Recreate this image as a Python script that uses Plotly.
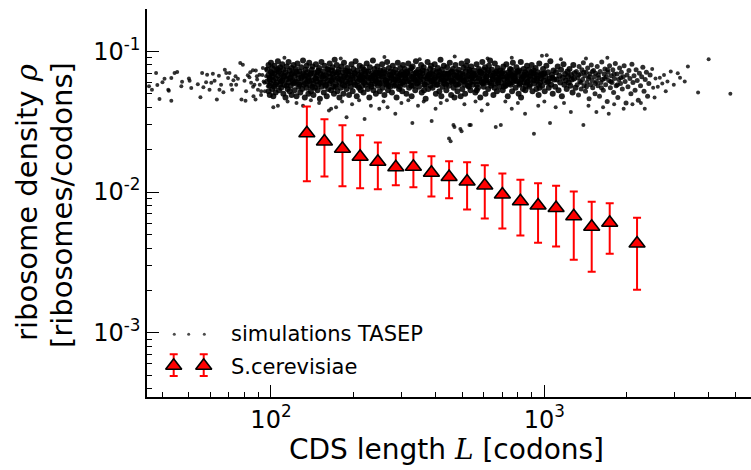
import math
import plotly.graph_objects as go

# ---------------- data ----------------
# S. cerevisiae binned experimental densities
sc_L = [135.3, 156.9, 182.6, 211.9, 246.0, 286.2, 331.9, 386.3, 448.3, 521.7,
        605.4, 702.2, 817.3, 948.4, 1104, 1281, 1490, 1734, 2183]
sc_rho = [0.02616, 0.02284, 0.02030, 0.01781, 0.01641, 0.01499, 0.01512, 0.01372, 0.01278, 0.01187,
          0.01112, 0.00960, 0.00860, 0.00802, 0.00770, 0.00673, 0.00566, 0.00604, 0.00431]
sc_rho_hi = [0.04048, 0.03289, 0.02981, 0.02531, 0.02247, 0.01887, 0.01918, 0.01796, 0.01654, 0.01625,
             0.01550, 0.01353, 0.01220, 0.01155, 0.01107, 0.01008, 0.00852, 0.00833, 0.00656]
sc_rho_lo = [0.01193, 0.01288, 0.01100, 0.01064, 0.01047, 0.01118, 0.01082, 0.00929, 0.00904, 0.00751,
             0.00648, 0.00551, 0.00491, 0.00436, 0.00410, 0.00330, 0.00271, 0.00364, 0.00202]

# TASEP simulations (L, rho), read region by region from the cloud
sim_short = [
    (35.8, .0564), (36.7, .0534), (38.0, .0702), (38.4, .0577), (39.1, .0459), (40.1, .0602), (40.8, .0638),
    (42.1, .0534), (42.3, .0524), (43.2, .0446), (43.2, .0647), (44.4, .0702), (45.4, .0713), (47.0, .0564),
    (47.3, .0609), (50.1, .0640), (50.4, .0619), (51.1, .0549), (54.0, .0583), (55.2, .0471), (56.0, .0702),
    (56.6, .0555), (57.9, .0602), (58.4, .0683), (59.6, .0534), (60.5, .0597), (61.3, .0692), (62.2, .0617),
    (63.4, .0454), (64.5, .0672), (64.8, .0534), (65.7, .0580), (67.0, .0511), (67.8, .0741), (68.6, .0702),
    (69.7, .0647), (70.5, .0702), (71.5, .0580), (72.1, .0534), (72.9, .0623), (74.2, .0664), (74.6, .0580),
    (75.7, .0638), (77.2, .0827), (78.0, .0454), (78.9, .0804), (80.0, .0619), (80.7, .0446), (81.1, .0520),
    (82.3, .0675), (83.4, .0654), (84.6, .0597), (85.9, .0733), (86.3, .0480), (87.0, .0580), (87.8, .0454),
    (88.8, .0664), (89.6, .0534), (90.8, .0683), (92.1, .0520), (93.4, .0762), (94.7, .0597), (96.0, .0664),
    (97.4, .0564), (84, .071), (89, .063), (91, .058), (93, .068), (95, .052), (96, .075), (92, .049),
    (94, .061), (86, .056), (88, .073),
]
sim_core = [
    (97,.061),(97,.074),(98,.052),(98,.068),(98,.080),(99,.057),(99,.065),(99,.049),(100,.071),(100,.059),
    (100,.083),(101,.054),(101,.066),(101,.076),(102,.048),(102,.062),(103,.070),(103,.056),(103,.079),(104,.064),
    (104,.051),(105,.073),(105,.060),(106,.067),(106,.085),(107,.053),(107,.072),(108,.058),(108,.063),(108,.077),
    (109,.069),(109,.055),(110,.081),(110,.062),(111,.050),(111,.074),(112,.066),(112,.058),(113,.047),(113,.071),
    (114,.063),(114,.078),(115,.054),(115,.068),(116,.060),(116,.084),(117,.052),(117,.073),(118,.065),(118,.057),
    (119,.076),(119,.049),(120,.062),(120,.070),(121,.059),(121,.080),(122,.067),
    (122,.053),(123,.075),(123,.061),(124,.048),(125,.069),(125,.082),(126,.056),(126,.064),(127,.072),(128,.051),
    (128,.060),(129,.077),(130,.066),(130,.054),(131,.086),(131,.070),(132,.058),(133,.063),(133,.047),(134,.074),
    (134,.067),(135,.055),(135,.079),(136,.061),(136,.071),(137,.050),
    (137,.065),(138,.083),(139,.057),(139,.068),(140,.052),(141,.074),(141,.062),(142,.078),(143,.059),(143,.049),
    (144,.070),(145,.064),(145,.055),(146,.081),(147,.067),(147,.061),(148,.053),(149,.073),(149,.058),(150,.076),
    (151,.063),(151,.046),(152,.069),(153,.056),(153,.084),(154,.066),
    (155,.060),(155,.072),(156,.051),(157,.079),(158,.064),(158,.057),(159,.068),(160,.048),(161,.075),(161,.062),
    (162,.054),(163,.070),(164,.082),(164,.059),(165,.066),(166,.053),(167,.073),(167,.061),(168,.077),(169,.056),
    (169,.065),(170,.050),(171,.071),(171,.087),(172,.063),
    (173,.058),(174,.069),(174,.080),(175,.052),(176,.064),(177,.074),(178,.060),(178,.047),(179,.067),(180,.055),
    (181,.078),(182,.062),(183,.071),(184,.050),(185,.066),(185,.083),(186,.057),(187,.073),(188,.061),(189,.054),
    (190,.076),(190,.065),(191,.059),(192,.069),(193,.049),
    (194,.072),(195,.063),(196,.056),(197,.081),(198,.067),(199,.052),(200,.075),(201,.060),(202,.070),(203,.058),
    (204,.085),(205,.064),(206,.048),(207,.073),(208,.061),(209,.068),(210,.055),(211,.079),(212,.066),(213,.053),
    (214,.071),(215,.062),(216,.077),(216,.057),(217,.065),
    (218,.051),(219,.074),(220,.063),(221,.069),(222,.058),(224,.082),(225,.066),(226,.054),(227,.072),(228,.060),
    (229,.047),(230,.077),(232,.064),(233,.056),(234,.070),(235,.062),(236,.086),(237,.053),(238,.068),(239,.075),
    (240,.059),(241,.065),(242,.050),(243,.071),(243,.061),
    (245,.078),(246,.057),(247,.067),(248,.063),(250,.052),(251,.073),(252,.069),(254,.060),(255,.081),(256,.055),
    (258,.066),(259,.074),(260,.049),(262,.062),(263,.070),(264,.058),(266,.084),(267,.064),(268,.053),(270,.076),
    (271,.061),(272,.068),(273,.056),(249,.071),(265,.059),
    (274,.072),(276,.065),(277,.051),(279,.079),(280,.060),(282,.068),(283,.057),(285,.074),(286,.063),(288,.047),
    (289,.070),(291,.083),(292,.062),(294,.054),(295,.067),(297,.076),(298,.059),(300,.065),(301,.071),(302,.052),
    (304,.080),(305,.061),(306,.069),(281,.063),(296,.056),
    (308,.058),(309,.075),(311,.064),(313,.050),(315,.070),(316,.061),(318,.082),(320,.055),(321,.067),(323,.073),
    (325,.060),(327,.048),(328,.066),(330,.078),(332,.057),(334,.069),(335,.063),(337,.053),(339,.085),(340,.071),
    (342,.059),(343,.065),(310,.068),(326,.076),(338,.062),
    (346,.074),(348,.056),(350,.067),(352,.061),(354,.080),(356,.051),(358,.070),(360,.063),(362,.077),(364,.058),
    (366,.066),(368,.046),(370,.072),(372,.060),(374,.084),(376,.054),(378,.068),(380,.064),(382,.075),(384,.057),
    (386,.062),(351,.071),(363,.053),(375,.066),(385,.079),
    (388,.069),(390,.055),(392,.073),(395,.060),(397,.081),(399,.065),(401,.050),(404,.071),(406,.058),(408,.076),
    (410,.063),(413,.052),(415,.068),(417,.087),(419,.061),(422,.074),(424,.056),(426,.066),(429,.079),(431,.059),
    (433,.070),(394,.063),(411,.067),(420,.048),(428,.062),
    (436,.064),(438,.053),(441,.077),(443,.061),(446,.069),(448,.057),(451,.083),(453,.066),(456,.049),(458,.072),
    (461,.060),(463,.075),(466,.055),(468,.068),(471,.063),(473,.080),(476,.058),(478,.071),(481,.052),(483,.065),
    (486,.074),(444,.070),(459,.062),(469,.047),(480,.067),
    (489,.059),(492,.070),(495,.064),(498,.082),(501,.054),(504,.067),(507,.076),(510,.061),(513,.050),(516,.072),
    (519,.063),(522,.085),(525,.057),(528,.068),(531,.074),(534,.060),(537,.053),(540,.078),(543,.065),(545,.070),
    (494,.048),(506,.062),(518,.079),(530,.056),(542,.066),
    (548,.058),(552,.073),(555,.064),(559,.051),(562,.069),(565,.081),(569,.061),(572,.055),(576,.075),(579,.066),
    (583,.047),(586,.071),(590,.060),(593,.084),(597,.063),(600,.056),(604,.068),(607,.077),(611,.062),(550,.067),
    (566,.053),(580,.072),(595,.059),(602,.074),(609,.050),
    (615,.066),(619,.071),(623,.054),(627,.079),(631,.061),(635,.068),(639,.057),(643,.074),(647,.063),(651,.049),
    (655,.070),(659,.082),(663,.059),(667,.065),(671,.052),(675,.076),(679,.062),(683,.069),(686,.056),(617,.060),
    (633,.086),(645,.067),(657,.055),(669,.072),(681,.064),
    (690,.073),(695,.060),(699,.066),(704,.053),(708,.078),(713,.063),(717,.069),(722,.057),(726,.081),(731,.061),
    (735,.048),(740,.071),(744,.065),(749,.075),(753,.058),(758,.067),(762,.052),(767,.083),(770,.062),(697,.070),
    (711,.056),(728,.066),(742,.059),(756,.074),(765,.068),
    (775,.064),(780,.070),(785,.055),(790,.077),(795,.061),(800,.067),(805,.050),(810,.073),(815,.059),(820,.084),
    (825,.063),(830,.068),(835,.054),(840,.075),(845,.060),(850,.071),(855,.057),(860,.065),(864,.079),(787,.062),
    (802,.072),(822,.047),(838,.066),(852,.053),(862,.069),
    (870,.061),(876,.074),(882,.056),(888,.068),(893,.063),(899,.080),(905,.052),(911,.070),(917,.059),(923,.066),
    (929,.076),(935,.054),(941,.064),(947,.071),(953,.049),(958,.082),(964,.060),(969,.067),(885,.058),(914,.073),
    (938,.062),(961,.055),
    (975,.069),(982,.057),(989,.075),(996,.062),(1003,.052),(1010,.066),(1017,.079),(1024,.060),(1031,.071),(1038,.055),
    (1045,.064),(1052,.085),(1059,.058),(1066,.068),(1073,.050),(1080,.073),(1087,.063),(999,.070),(1035,.061),(1070,.065),
    (1095,.056),(1103,.071),(1111,.063),(1119,.078),(1127,.053),(1135,.067),(1143,.060),(1151,.074),(1159,.048),(1167,.065),
    (1175,.081),(1183,.058),(1191,.069),(1199,.062),(1207,.054),(1215,.072),(1220,.066),
    (1228,.060),(1236,.075),(1244,.057),(1252,.068),(1260,.063),(1268,.051),(1276,.080),(1284,.064),(1292,.070),(1300,.055),
]
# second pass over the dense band (L 100-1000), filling the gaps of the first pass
sim_core_fill = [
    (99,.063),(101,.070),(104,.058),(106,.075),(109,.061),(111,.067),(114,.057),(117,.064),(119,.069),(122,.060),
    (124,.072),(127,.058),(129,.065),(132,.068),(134,.059),(138,.062),(140,.070),(142,.056),(146,.064),(148,.071),
    (152,.060),(156,.067),(159,.058),(162,.074),(166,.062),(168,.069),(172,.056),(176,.071),(180,.063),(183,.058),
    (187,.067),(191,.072),(195,.060),(199,.065),(203,.070),(207,.057),(211,.063),(215,.068),(219,.060),(223,.072),
    (228,.065),(232,.058),(236,.067),(241,.062),(245,.070),(250,.059),(255,.066),(260,.071),(264,.062),(269,.057),
    (275,.067),(280,.071),(286,.058),(291,.064),(297,.069),(303,.060),(309,.066),(314,.072),(320,.062),(326,.057),
    (332,.065),(339,.070),(345,.060),(352,.066),(359,.073),(366,.058),(373,.064),(381,.069),(389,.061),(396,.067),
    (404,.058),(412,.072),(420,.064),(428,.069),(437,.058),(446,.065),(455,.071),(464,.061),(473,.067),(483,.058),
    (492,.063),(502,.069),(512,.058),(522,.066),(533,.072),(544,.061),(555,.068),(566,.058),(577,.064),(589,.070),
    (601,.061),(613,.066),(625,.073),(638,.059),(651,.064),(664,.070),(677,.060),(691,.066),(705,.072),(719,.058),
    (734,.064),(749,.069),(764,.060),(779,.066),(795,.072),(811,.058),(828,.064),(845,.068),(862,.060),(880,.066),
    (898,.071),(916,.062),(934,.068),(953,.058),(972,.064),(992,.069),
]
sim_long = [
    (1310,.072),(1318,.058),(1325,.065),(1333,.049),(1340,.078),(1348,.061),(1356,.069),(1364,.054),(1372,.074),(1380,.063),
    (1389,.083),(1397,.057),(1405,.067),(1414,.052),(1422,.071),(1431,.060),(1440,.076),(1449,.064),(1458,.046),(1467,.069),
    (1476,.058),(1485,.080),(1494,.062),(1503,.055),(1513,.073),(1522,.066),(1532,.050),(1541,.070),(1551,.061),(1561,.078),
    (1571,.057),(1581,.065),(1591,.048),(1601,.072),(1611,.060),(1622,.084),(1632,.063),(1643,.053),(1654,.069),(1665,.075),
    (1676,.058),(1687,.066),(1698,.044),(1709,.071),(1720,.062),(1732,.079),(1744,.055),(1756,.067),(1768,.060),(1780,.074),
    (1792,.051),(1805,.064),(1818,.082),(1831,.057),(1844,.069),(1857,.047),(1871,.063),(1885,.076),(1899,.059),(1913,.071),
    (1928,.054),(1943,.066),(1958,.079),(1974,.061),(1990,.043),(2006,.068),(2022,.056),(2039,.073),(2056,.064),(2073,.050),
    (2091,.081),(2109,.060),(2128,.067),(2147,.053),(2166,.074),(2186,.062),(2206,.045),(2227,.070),(2248,.057),(2270,.066),
    (2292,.077),(2315,.052),(2338,.063),(2362,.071),(2386,.048),(2411,.059),(2437,.068),
    (1335,.068),(1362,.060),(1394,.071),(1426,.056),(1462,.066),(1498,.072),(1536,.059),(1576,.068),(1618,.055),
    (1660,.064),(1703,.074),(1750,.061),(1800,.069),(1850,.058),(1905,.065),
]
sim_tail = [
    (2480,.075),(2500,.055),(2550,.064),(2600,.056),(2645,.065),(2700,.059),(2740,.068),(2820,.061),(2900,.072),(2975,.058),
    (3076,.070),(3135,.065),(3262,.061),(2530,.047),(2780,.052),(3350,.078),(2255,.043),(2330,.039),
    (3650,.051),(3990,.088),(4790,.050),
]
sim_outliers = [
    (102,.040),(106,.041),(115,.044),(124,.043),(131,.041),(140,.045),(150,.043),(163,.038),(166,.039),(173,.040),
    (182,.044),(189,.034),(198,.042),(210,.045),(220,.033),(232,.041),(249,.039),(258,.044),(267,.040),(285,.036),
    (300,.043),(318,.045),(329,.031),(345,.041),(362,.044),(387,.032),(400,.039),(418,.043),(440,.045),(448,.024),
    (454,.023),(465,.030),(469,.029),(493,.028),(498,.027),(510,.042),(532,.030),(538,.030),(560,.044),(590,.038),
    (620,.042),(664,.029),(693,.030),(720,.044),(760,.039),(800,.043),(850,.036),(916,.026),(950,.041),(1000,.044),
    (1049,.031),(1100,.040),(1180,.043),(1250,.037),(1389,.030),(1450,.041),(1550,.037),(1640,.040),(1720,.036),
    (1800,.042),(1950,.039),(2100,.042),
    (112,.090),(180,.089),(260,.091),(350,.088),(470,.092),(620,.089),(760,.090),(980,.093),(1150,.088),(1420,.089),
    (1700,.090),(1020,.094),
]

x_ticks = [100, 1000]
x_ticktext = ["10<sup>2</sup>", "10<sup>3</sup>"]
y_ticks = [0.001, 0.01, 0.1]
y_ticktext = ["10<sup>-3</sup>", "10<sup>-2</sup>", "10<sup>-1</sup>"]

# ---------------- figure ----------------
dense = sim_core + sim_core_fill
sparse = sim_short + sim_tail + sim_outliers

FONT = "DejaVu Sans"
W, H = 751, 470
ML, MR, MT, MB = 147, 0, 9, 73

fig = go.Figure()
fig.add_trace(go.Scatter(
    x=[p[0] for p in sparse], y=[p[1] for p in sparse], mode="markers",
    marker=dict(size=4, color="rgba(0,0,0,0.8)", line=dict(width=0)),
    showlegend=False, hoverinfo="skip"))
fig.add_trace(go.Scatter(
    x=[p[0] for p in sim_long], y=[p[1] for p in sim_long], mode="markers",
    marker=dict(size=5, color="rgba(0,0,0,0.82)", line=dict(width=0)),
    showlegend=False, hoverinfo="skip"))
fig.add_trace(go.Scatter(
    x=[p[0] for p in dense], y=[p[1] for p in dense], mode="markers",
    marker=dict(size=6, color="rgba(0,0,0,0.88)", line=dict(width=0)),
    showlegend=False, hoverinfo="skip"))

err_up = [h - r for h, r in zip(sc_rho_hi, sc_rho)]
err_dn = [r - l for r, l in zip(sc_rho, sc_rho_lo)]
fig.add_trace(go.Scatter(
    x=sc_L, y=sc_rho, mode="markers",
    marker=dict(symbol="triangle-up", size=14, color="#ff0000", line=dict(color="black", width=1.6)),
    error_y=dict(type="data", symmetric=False, array=err_up, arrayminus=err_dn,
                 color="#ff0000", thickness=2, width=4),
    showlegend=False))

# hand-drawn legend (matplotlib style: 3 scatter points, 2 errorbar markers)
fig.add_trace(go.Scatter(
    x=[0.0452, 0.0690, 0.0949], y=[0.1616] * 3, xaxis="x2", yaxis="y2", mode="markers",
    marker=dict(size=3, color="rgba(0,0,0,0.7)"), showlegend=False, hoverinfo="skip"))
fig.add_trace(go.Scatter(
    x=[0.0442, 0.0939], y=[0.0804] * 2, xaxis="x2", yaxis="y2", mode="markers",
    marker=dict(symbol="triangle-up", size=14, color="#ff0000", line=dict(color="black", width=1.6)),
    error_y=dict(type="data", symmetric=False, array=[0.0297] * 2, arrayminus=[0.0263] * 2,
                 color="#ff0000", thickness=2, width=4),
    showlegend=False, hoverinfo="skip"))

def minor_vals(lo_exp, hi_exp):
    return [m * 10 ** e for e in range(lo_exp, hi_exp + 1) for m in range(2, 10)]

axis_common = dict(type="log", showgrid=False, zeroline=False, showline=True,
                   linecolor="black", linewidth=1.5, mirror=False,
                   ticks="inside", ticklen=12, tickwidth=1.3, tickcolor="black",
                   tickfont=dict(family=FONT, size=24, color="black"))

fig.update_layout(
    width=W, height=H, margin=dict(l=ML, r=MR, t=MT, b=MB, autoexpand=False),
    paper_bgcolor="white", plot_bgcolor="white",
    font=dict(family=FONT, color="black"),
    xaxis=dict(axis_common, range=[math.log10(35.2), math.log10(5700)],
               tickvals=x_ticks, ticktext=x_ticktext,
               minor=dict(tickvals=[v for v in minor_vals(1, 3) if 35.2 < v < 5700],
                          ticks="inside", ticklen=5.5, tickwidth=1.1, tickcolor="black", showgrid=False)),
    yaxis=dict(axis_common, range=[math.log10(3.49e-4), math.log10(0.2)],
               tickvals=y_ticks, ticktext=y_ticktext, ticklabelstandoff=0,
               minor=dict(tickvals=[v for v in minor_vals(-4, -1) if 3.49e-4 < v <= 0.2001],
                          ticks="inside", ticklen=5.5, tickwidth=1.1, tickcolor="black", showgrid=False)),
    xaxis2=dict(overlaying="x", range=[0, 1], visible=False, fixedrange=True),
    yaxis2=dict(overlaying="y", range=[0, 1], visible=False, fixedrange=True),
    showlegend=False,
)

PW, PH = W - ML - MR, H - MT - MB
def px_x(p):
    return (p - ML) / PW
def px_y(p):
    return (H - MB - p) / PH

ann = [
    dict(text="simulations TASEP", x=px_x(229), y=px_y(333.5), xanchor="left", yanchor="middle",
         font=dict(size=21)),
    dict(text="S.cerevisiae", x=px_x(229), y=px_y(366.5), xanchor="left", yanchor="middle",
         font=dict(size=21)),
    dict(text="CDS length <i><span style=\"font-family:DejaVu Serif\">L</span></i> [codons]",
         x=px_x(446), y=px_y(449), xanchor="center", yanchor="middle", font=dict(size=28)),
    dict(text="ribosome density <i><span style=\"font-family:DejaVu Serif\">ρ</span></i>",
         x=px_x(27), y=px_y(203), xanchor="center", yanchor="middle", textangle=-90,
         font=dict(size=29)),
    dict(text="[ribosomes/codons]", x=px_x(62), y=px_y(205), xanchor="center", yanchor="middle",
         textangle=-90, font=dict(size=29)),
]
for a in ann:
    a.update(xref="paper", yref="paper", showarrow=False)
    a["font"] = dict(family=FONT, color="black", **a["font"])
fig.update_layout(annotations=ann)

fig.write_html("out.html")
